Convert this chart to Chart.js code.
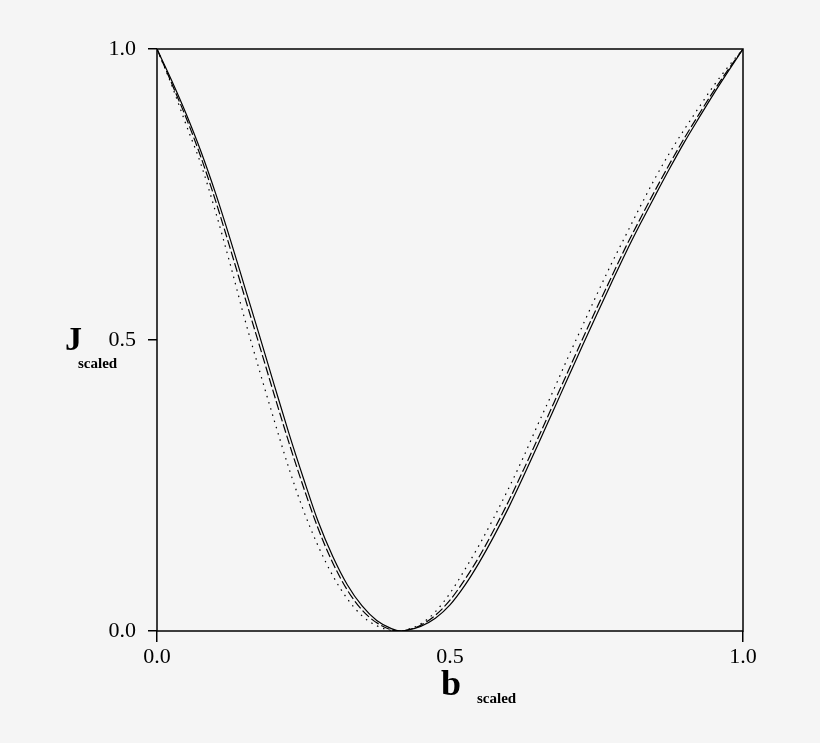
<!DOCTYPE html>
<html>
<head>
<meta charset="utf-8">
<title>J scaled vs b scaled</title>
<script src="https://cdn.jsdelivr.net/npm/chart.js@4.4.1/dist/chart.umd.min.js"></script>
<style>
  html, body { margin: 0; padding: 0; background: #f5f5f5; }
  #wrap { position: relative; width: 820px; height: 743px; }
</style>
</head>
<body>
<div id="wrap"><canvas id="chart"></canvas></div>
<script>
  // ── Data (b_scaled grid, J_scaled per curve) ──
  var B_SCALED = [
    0, 0.025, 0.05, 0.075, 0.1, 0.125, 0.15, 0.175, 0.2, 0.225,
    0.25, 0.275, 0.3, 0.325, 0.35, 0.375, 0.4, 0.415, 0.425, 0.45,
    0.475, 0.5, 0.525, 0.55, 0.575, 0.6, 0.625, 0.65, 0.675, 0.7,
    0.725, 0.75, 0.775, 0.8, 0.825, 0.85, 0.875, 0.9, 0.925, 0.95,
    0.975, 1.0
  ];

  var J_SOLID = [
    1.0, 0.946, 0.888, 0.824, 0.752, 0.673, 0.59, 0.507, 0.423, 0.34,
    0.262, 0.188, 0.128, 0.079, 0.043, 0.018, 0.004, 0.0, 0.001, 0.008,
    0.022, 0.045, 0.078, 0.118, 0.163, 0.212, 0.265, 0.32, 0.376, 0.432,
    0.488, 0.543, 0.597, 0.65, 0.70, 0.748, 0.795, 0.84, 0.882, 0.923,
    0.962, 1.0
  ];

  var J_DASHED = [
    1.0, 0.941, 0.881, 0.814, 0.739, 0.657, 0.573, 0.49, 0.406, 0.324,
    0.247, 0.176, 0.117, 0.07, 0.036, 0.014, 0.002, 0.0, 0.001, 0.01,
    0.027, 0.053, 0.088, 0.128, 0.174, 0.223, 0.276, 0.331, 0.387, 0.443,
    0.499, 0.554, 0.607, 0.66, 0.709, 0.757, 0.803, 0.847, 0.888, 0.928,
    0.965, 1.0
  ];

  var J_DOTTED = [
    1.0, 0.938, 0.869, 0.802, 0.72, 0.63, 0.535, 0.447, 0.362, 0.28,
    0.207, 0.146, 0.095, 0.055, 0.026, 0.009, 0.001, 0.0, 0.002, 0.012,
    0.033, 0.065, 0.105, 0.148, 0.195, 0.245, 0.298, 0.355, 0.41, 0.467,
    0.522, 0.577, 0.63, 0.68, 0.73, 0.778, 0.822, 0.862, 0.9, 0.937,
    0.97, 1.0
  ];

  var X_TICKS = [0, 0.5, 1.0];
  var Y_TICKS = [0, 0.5, 1.0];

  var FONT_SERIF = '"Liberation Serif", "DejaVu Serif", serif';

  function _points(ys) {
    var out = [];
    for (var i = 0; i < B_SCALED.length; i++) out.push({ x: B_SCALED[i], y: ys[i] });
    return out;
  }

  function _curve(label, ys, dash) {
    return {
      label: label,
      data: _points(ys),
      showLine: true,
      borderColor: '#000',
      borderWidth: 1.2,
      borderDash: dash,
      pointRadius: 0,
      fill: false,
      cubicInterpolationMode: 'monotone'
    };
  }

  // frame + axis titles (J_scaled, b_scaled with small subscripts)
  var framePlugin = {
    id: 'frameAndTitles',
    afterDraw: function (chart) {
      var a = chart.chartArea;
      var ctx = chart.ctx;
      ctx.save();
      ctx.strokeStyle = '#000';
      ctx.lineWidth = 1.5;
      ctx.strokeRect(a.left, a.top, a.right - a.left, a.bottom - a.top);

      ctx.fillStyle = '#000';
      ctx.textBaseline = 'alphabetic';
      ctx.textAlign = 'left';
      // y title
      ctx.font = 'bold 34px ' + FONT_SERIF;
      ctx.fillText('J', 65, 350);
      ctx.font = 'bold 15px ' + FONT_SERIF;
      ctx.fillText('scaled', 78, 368);
      // x title
      ctx.font = 'bold 36px ' + FONT_SERIF;
      ctx.fillText('b', 441, 695);
      ctx.font = 'bold 15px ' + FONT_SERIF;
      ctx.fillText('scaled', 477, 703);
      ctx.restore();
    }
  };

  new Chart(document.getElementById('chart').getContext('2d'), {
    type: 'scatter',
    data: {
      datasets: [
        _curve('solid', J_SOLID, []),
        _curve('dashed', J_DASHED, [9, 3]),
        _curve('dotted', J_DOTTED, [1.5, 5])
      ]
    },
    options: {
      responsive: true,
      maintainAspectRatio: false,
      animation: false,
      layout: { padding: { left: 0, top: 49, right: 77, bottom: 0 } },
      plugins: {
        legend: { display: false },
        tooltip: { enabled: false }
      },
      scales: {
        x: {
          type: 'linear',
          min: 0,
          max: 1,
          afterFit: function (s) { s.height = 112; },
          afterBuildTicks: function (s) {
            s.ticks = X_TICKS.map(function (v) { return { value: v }; });
          },
          ticks: {
            color: '#000',
            font: { family: FONT_SERIF, size: 22 },
            padding: 2,
            maxRotation: 0,
            callback: function (v) { return Number(v).toFixed(1); }
          },
          grid: {
            drawOnChartArea: false,
            drawTicks: true,
            tickLength: 11,
            lineWidth: 1.5,
            color: function (c) {
              var v = c.tick && c.tick.value;
              return (v === 0 || v === 1) ? '#000' : 'rgba(0,0,0,0)';
            }
          },
          border: { display: false }
        },
        y: {
          type: 'linear',
          min: 0,
          max: 1,
          afterFit: function (s) { s.width = 157; },
          afterBuildTicks: function (s) {
            s.ticks = Y_TICKS.map(function (v) { return { value: v }; });
          },
          ticks: {
            color: '#000',
            font: { family: FONT_SERIF, size: 22 },
            padding: 12,
            callback: function (v) { return Number(v).toFixed(1); }
          },
          grid: {
            drawOnChartArea: false,
            drawTicks: true,
            tickLength: 9,
            lineWidth: 1.5,
            color: '#000'
          },
          border: { display: false }
        }
      }
    },
    plugins: [framePlugin]
  });
</script>
</body>
</html>
